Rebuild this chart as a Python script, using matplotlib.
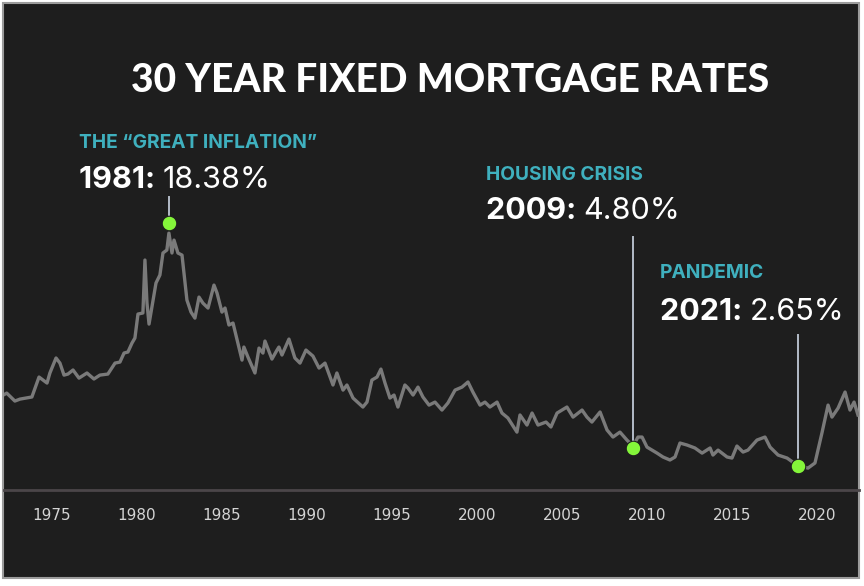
import matplotlib.pyplot as plt
from matplotlib.patches import Rectangle

# 30 year fixed mortgage rate
years = [1972.14, 1972.34, 1972.82, 1973.12, 1973.82, 1974.24, 1974.71, 1974.88,
         1975.24, 1975.47, 1975.71, 1975.94, 1976.24, 1976.59, 1977.06, 1977.47,
         1977.82, 1978.29, 1978.71, 1979.00, 1979.24, 1979.47, 1979.71, 1979.88,
         1980.06, 1980.35, 1980.47, 1980.59, 1980.71, 1981.12, 1981.35, 1981.53,
         1981.76, 1981.88, 1982.06, 1982.18, 1982.41, 1982.65, 1982.94, 1983.18,
         1983.41, 1983.65, 1983.88, 1984.18, 1984.53, 1984.71, 1985.00, 1985.18,
         1985.41, 1985.65, 1986.18, 1986.29, 1986.53, 1986.94, 1987.18, 1987.41,
         1987.53, 1987.94, 1988.24, 1988.35, 1988.53, 1988.94, 1989.29, 1989.59,
         1989.94, 1990.35, 1990.71, 1991.06, 1991.53, 1991.76, 1992.12, 1992.35,
         1992.71, 1993.29, 1993.53, 1993.82, 1994.12, 1994.35, 1994.59, 1994.88,
         1995.12, 1995.35, 1995.76, 1995.94, 1996.24, 1996.53, 1996.82, 1997.18,
         1997.53, 1997.94, 1998.29, 1998.71, 1999.12, 1999.47, 1999.76, 2000.18,
         2000.47, 2000.76, 2001.18, 2001.47, 2001.82, 2002.35, 2002.53, 2002.94,
         2003.24, 2003.59, 2004.06, 2004.35, 2004.71, 2005.29, 2005.65, 2006.18,
         2006.47, 2006.76, 2007.24, 2007.65, 2008.00, 2008.41, 2008.82, 2009.18,
         2009.47, 2009.71, 2010.00, 2010.59, 2010.94, 2011.35, 2011.65, 2011.94,
         2012.35, 2012.82, 2013.24, 2013.71, 2013.88, 2014.18, 2014.71, 2015.00,
         2015.29, 2015.65, 2015.94, 2016.47, 2016.94, 2017.24, 2017.71, 2018.24,
         2018.82, 2019.47, 2019.88, 2020.29, 2020.65, 2020.88, 2021.24, 2021.65,
         2021.94, 2022.18, 2022.41]
rates = [7.40, 7.53, 7.00, 7.13, 7.27, 8.60, 8.20, 8.87,
         9.87, 9.53, 8.73, 8.80, 9.07, 8.53, 8.87, 8.47,
         8.73, 8.80, 9.53, 9.60, 10.20, 10.27, 10.87, 11.20,
         12.80, 12.87, 16.40, 13.53, 12.13, 14.87, 15.40, 16.87,
         17.07, 18.20, 16.87, 17.73, 16.87, 16.73, 13.73, 12.93,
         12.53, 13.93, 13.53, 13.20, 14.73, 14.20, 12.93, 13.20,
         12.07, 12.20, 9.73, 10.60, 9.93, 8.87, 10.53, 10.20,
         11.00, 9.80, 10.40, 10.60, 10.07, 11.13, 9.87, 9.53,
         10.40, 10.00, 9.20, 9.53, 8.07, 8.87, 7.73, 8.07,
         7.20, 6.60, 6.93, 8.40, 8.60, 9.13, 8.20, 7.20,
         7.40, 6.60, 8.07, 7.87, 7.40, 7.93, 7.27, 6.73,
         6.93, 6.40, 6.87, 7.73, 7.93, 8.27, 7.60, 6.73,
         6.93, 6.60, 6.93, 6.20, 5.87, 4.93, 6.07, 5.40,
         6.20, 5.40, 5.60, 5.27, 6.20, 6.60, 5.93, 6.40,
         5.93, 5.60, 6.27, 5.07, 4.60, 4.93, 4.40, 4.00,
         4.60, 4.60, 3.93, 3.53, 3.27, 3.07, 3.27, 4.20,
         4.07, 3.87, 3.53, 3.87, 3.40, 3.73, 3.27, 3.20,
         4.00, 3.60, 3.73, 4.40, 4.60, 3.93, 3.40, 3.20,
         2.73, 2.53, 2.87, 4.87, 6.73, 5.93, 6.53, 7.60,
         6.40, 6.93, 6.07]

# highlighted points
event_x = [1981.88, 2009.18, 2018.88]
event_y = [18.87, 3.87, 2.67]
event_top = [20.6, 17.93, 11.4]
event_names = ['THE \u201cGREAT INFLATION\u201d', 'HOUSING CRISIS', 'PANDEMIC']
event_years = ['1981:', '2009:', '2021:']
event_values = ['18.38%', '4.80%', '2.65%']
# label positions in pixels (left, name baseline, value baseline)
label_px = [(79, 148, 188), (486, 180, 219), (660, 278, 320)]

tick_years = [1975, 1980, 1985, 1990, 1995, 2000, 2005, 2010, 2015, 2020]

W, H = 864, 586
bg = '#1e1e1e'
fig = plt.figure(figsize=(W / 100, H / 100), dpi=100, facecolor='white')
fig.patches.append(Rectangle((3 / W, 8 / H), 856 / W, 575 / H, transform=fig.transFigure,
                             facecolor=bg, edgecolor='#9c9c9c', lw=1.5, zorder=-10))

ax = fig.add_axes([4 / W, 96 / H, 855 / W, 390 / H])
ax.set_zorder(1)
ax.patch.set_alpha(0)
ax.plot(years, rates, color='#7a7a7a', lw=2.4, solid_joinstyle='round', zorder=2)

for x, y, top in zip(event_x, event_y, event_top):
    ax.plot([x, x], [y, top], color='#b4bcc8', lw=1.4, zorder=3)
ax.scatter(event_x, event_y, s=110, color='#84f53a', edgecolor='#1e1e1e', lw=0.8, zorder=4)

ax.set_xlim(1972.18, 2022.47)
ax.set_ylim(1.07, 27.07)
ax.set_xticks(tick_years)
ax.set_xticklabels([str(t) for t in tick_years], family=['Liberation Sans Narrow', 'DejaVu Sans'],
                   fontsize=11, color='#d4d4d4')
ax.tick_params(axis='x', length=0, pad=13)
ax.set_yticks([])
for s in ['top', 'left', 'right']:
    ax.spines[s].set_visible(False)
ax.spines['bottom'].set_color('#4b4649')
ax.spines['bottom'].set_linewidth(2)

fig.text(450 / W, 1 - 92 / H, '30 YEAR FIXED MORTGAGE RATES', ha='center', va='baseline',
         family='Lato', weight='black', fontsize=28, color='white')

for (lx, ny, vy), name, yr, val in zip(label_px, event_names, event_years, event_values):
    fig.text(lx / W, 1 - ny / H, name, ha='left', va='baseline', family='Inter',
             weight='bold', fontsize=13.8, color='#3fb0be')
    t = fig.text(lx / W, 1 - vy / H, yr + ' ', ha='left', va='baseline', family='Inter',
                 weight='bold', fontsize=22, color='white')
    fig.canvas.draw()
    bb = t.get_window_extent()
    fig.text(bb.x1 / W, 1 - vy / H, val, ha='left', va='baseline', family='Inter',
             weight='normal', fontsize=22, color='white')

fig.savefig('out.png', dpi=100, facecolor='white')
